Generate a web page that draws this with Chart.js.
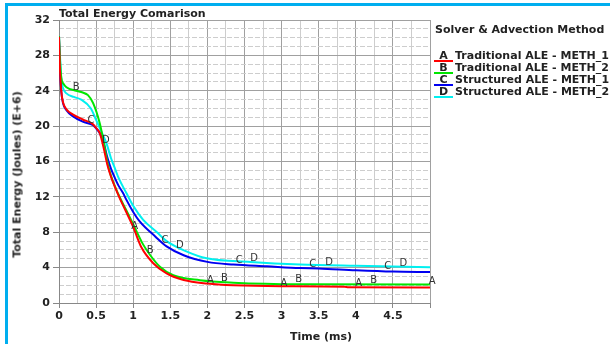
<!DOCTYPE html>
<html><head><meta charset="utf-8">
<script src="https://cdn.jsdelivr.net/npm/chart.js@4"></script>
<style>
html,body{margin:0;padding:0;background:#fff;}
body{width:610px;height:344px;overflow:hidden;position:relative;font-family:"DejaVu Sans",sans-serif;}
.t{position:absolute;font-weight:bold;font-size:11px;color:#222;white-space:nowrap;line-height:13px;}
</style></head><body>
<div style="position:absolute;left:5px;top:3px;width:605px;height:341px;border-top:3px solid #00aeef;border-left:3px solid #00aeef;box-sizing:border-box"></div>
<canvas id="c" width="610" height="344" style="position:absolute;left:0;top:0"></canvas>
<div class="t" style="left:59px;top:7px">Total Energy Comarison</div>
<div class="t" style="left:-83px;top:168px;width:200px;text-align:center;transform:rotate(-90deg)">Total Energy (Joules) (E+6)</div>
<div class="t" style="left:271px;top:330px;width:100px;text-align:center">Time (ms)</div>
<div class="t" style="left:435px;top:23px">Solver &amp; Advection Method</div>
<div id="legend"></div>
<script>
// ---- data ----
const seriesNames = ['Traditional ALE - METH_1','Traditional ALE - METH_2','Structured ALE - METH_1','Structured ALE - METH_2'];
const seriesLetters = ['A','B','C','D'];
const seriesColors = ['#ff0000','#00e600','#0000f0','#00f0f0'];
const xTickLabels = ['0','0.5','1','1.5','2','2.5','3','3.5','4','4.5'];
const yTickLabels = ['0','4','8','12','16','20','24','28','32'];

const timeA = [0,0.01,0.03,0.054,0.1,0.19,0.32,0.46,0.5,0.55,0.6,0.65,0.7,0.8,0.9,1.0,1.11,1.27,1.45,1.68,2.0,2.35,3.0,3.85,3.9,5.0];
const energyA = [30.1,27,24,22.7,21.9,21.3,20.75,20.2,19.8,19.2,17.6,15.7,14.3,12.2,10.4,8.6,6.3,4.5,3.35,2.6,2.2,2.0,1.9,1.85,1.78,1.75];
const timeB = [0,0.01,0.03,0.06,0.1,0.23,0.32,0.39,0.46,0.55,0.6,0.65,0.7,0.8,0.9,1.0,1.135,1.23,1.36,1.54,1.9,2.35,3.25,5.0];
const energyB = [30.2,28,25.5,24.8,24.4,24.0,23.8,23.5,22.6,20.3,18.3,16.0,14.4,12.3,10.6,8.9,6.6,5.4,4.1,3.14,2.57,2.3,2.12,2.1];
const timeC = [0,0.01,0.03,0.054,0.1,0.19,0.32,0.46,0.5,0.55,0.6,0.65,0.7,0.75,0.8,0.865,0.9,1.0,1.09,1.3,1.45,1.68,2.0,2.35,2.8,3.25,3.5,4.0,4.5,5.0];
const energyC = [30.0,27,24,22.6,21.8,21.1,20.5,20.1,19.75,19.2,18.2,16.5,15.2,14.2,13.3,12.4,11.8,10.3,9.2,7.5,6.4,5.4,4.65,4.35,4.15,3.95,3.9,3.7,3.55,3.5];
const timeD = [0,0.01,0.03,0.054,0.1,0.2,0.3,0.43,0.5,0.55,0.64,0.7,0.75,0.8,0.91,1.0,1.135,1.32,1.45,1.7,1.99,2.58,3.25,4.0,5.0];
const energyD = [30.2,28.5,25.5,24.3,23.7,23.3,23.0,22.0,20.7,19.75,18.05,16.4,15.3,14.2,12.4,11.0,9.4,8.0,7.0,5.9,5.05,4.64,4.35,4.2,4.05];

const marksA = [[1.02,8.7],[2.04,2.57],[3.03,2.27],[4.04,2.2],[5.03,2.46]];
const marksB = [[0.23,24.4],[1.23,5.97],[2.23,2.76],[3.23,2.65],[4.24,2.5]];
const marksC = [[0.43,20.6],[1.43,7.1],[2.43,4.76],[3.42,4.38],[4.43,4.16]];
const marksD = [[0.63,18.4],[1.63,6.5],[2.63,5.06],[3.64,4.64],[4.64,4.46]];

const timeSets = [timeA,timeB,timeC,timeD];
const energySets = [energyA,energyB,energyC,energyD];
const markSets = [marksA,marksB,marksC,marksD];

// ---- legend ----
const leg = document.getElementById('legend');
seriesNames.forEach((n,i)=>{
  const cy = 55 + i*12.3;
  leg.insertAdjacentHTML('beforeend',
    `<div class="t" style="left:434px;top:${cy-6.5}px;width:19px;text-align:center">${seriesLetters[i]}</div>`+
    `<div style="position:absolute;left:434px;top:${cy+4.5}px;width:19px;height:2px;background:${seriesColors[i]}"></div>`+
    `<div class="t" style="left:455px;top:${cy-6.5}px">${n}</div>`);
});

const near = (v,s)=>Math.abs(v/s-Math.round(v/s))<1e-6;
const tickFont = {family:'DejaVu Sans', size:11, weight:'bold'};
const clear = 'rgba(0,0,0,0)';
const majorGrid = '#a0a0a0', minorGrid = '#cdcdcd';

const curveLetters = {
  id:'curveLetters',
  afterDatasetsDraw(chart){
    const {ctx, scales:{x,y}} = chart;
    ctx.save();
    ctx.font = '10px "DejaVu Sans"';
    ctx.fillStyle = '#333';
    ctx.textAlign = 'center';
    ctx.textBaseline = 'middle';
    markSets.forEach((arr,i)=>arr.forEach(([t,e])=>{
      ctx.fillText(seriesLetters[i], x.getPixelForValue(t), y.getPixelForValue(e));
    }));
    ctx.restore();
  }
};

new Chart(document.getElementById('c'), {
  type:'line',
  data:{
    datasets: seriesNames.map((n,i)=>({
      label:n,
      data: timeSets[i].map((t,k)=>({x:t,y:energySets[i][k]})),
      borderColor: seriesColors[i],
      backgroundColor: seriesColors[i],
      borderWidth: 2,
      pointRadius: 0,
      fill:false,
      cubicInterpolationMode:'monotone',
      xAxisID:'x', yAxisID:'y'
    }))
  },
  options:{
    responsive:false, animation:false, devicePixelRatio:1,
    layout:{padding:{left:0,top:20,right:180,bottom:0}},
    plugins:{legend:{display:false}, title:{display:false}, tooltip:{enabled:false}},
    scales:{
      x:{type:'linear', min:0, max:5, position:'bottom',
        afterFit:s=>{s.height=41;},
        ticks:{stepSize:0.25, autoSkip:false, maxRotation:0, minRotation:0, padding:2, color:'#222', font:tickFont,
          callback:v=>{ const l = xTickLabels.find(s=>Math.abs(parseFloat(s)-v)<1e-6); return l===undefined?'':l; }},
        grid:{color:c=>near(c.tick.value,0.5)?majorGrid:minorGrid, tickColor:c=>near(c.tick.value,0.5)?'#888':clear, tickLength:5, lineWidth:1},
        border:{color:'#888', width:1}
      },
      y:{type:'linear', min:0, max:32, position:'left',
        afterFit:s=>{s.width=59;},
        ticks:{stepSize:1, autoSkip:false, padding:3, color:'#222', font:tickFont,
          callback:v=>{ const l = yTickLabels.find(s=>Math.abs(parseFloat(s)-v)<1e-6); return l===undefined?'':l; }},
        grid:{color:c=>near(c.tick.value,4)?majorGrid:clear, tickColor:c=>near(c.tick.value,4)?'#888':clear, tickLength:6, lineWidth:1},
        border:{color:'#888', width:1}
      },
      y2:{type:'linear', min:0, max:32, position:'left',
        afterFit:s=>{s.width=0;},
        ticks:{display:false, stepSize:1, autoSkip:false},
        grid:{drawTicks:false, color:c=>near(c.tick.value,4)?clear:minorGrid, lineWidth:1},
        border:{display:false, dash:[5,2]}
      }
    }
  },
  plugins:[curveLetters]
});
</script>
</body></html>
